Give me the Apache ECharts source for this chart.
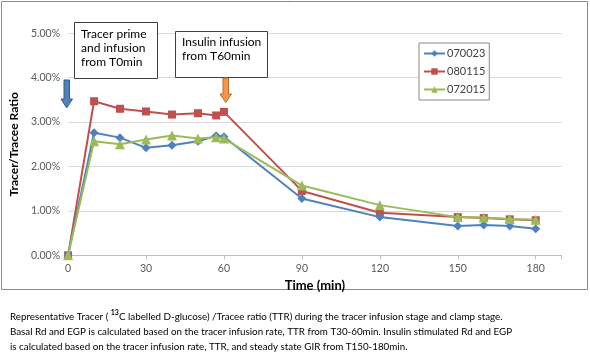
<!DOCTYPE html>
<html>
<head>
<meta charset="utf-8">
<script src="https://cdn.jsdelivr.net/npm/echarts@6/dist/echarts.min.js"></script>
<style>
html,body{margin:0;padding:0;background:#fff;}
#c{width:590px;height:358px;}
</style>
</head>
<body>
<div id="c"></div>
<script>
const times = [0, 10, 20, 30, 40, 50, 57, 60, 90, 120, 150, 160, 170, 180];
const s070023 = [0, 2.76, 2.65, 2.42, 2.48, 2.57, 2.69, 2.67, 1.28, 0.86, 0.66, 0.68, 0.66, 0.60];
const s080115 = [0, 3.47, 3.30, 3.24, 3.17, 3.20, 3.15, 3.23, 1.45, 0.96, 0.86, 0.84, 0.81, 0.79];
const s072015 = [0, 2.57, 2.50, 2.61, 2.70, 2.63, 2.66, 2.63, 1.57, 1.13, 0.86, 0.85, 0.82, 0.80];
const seriesNames = ['070023', '080115', '072015'];
const xTicks = [0, 30, 60, 90, 120, 150, 180];

const FONT = 'Lato, "Open Sans", sans-serif';
const pairs = arr => times.map((t, i) => [t, arr[i]]);

const chart = echarts.init(document.getElementById('c'), null, {renderer: 'canvas'});

function mkSeries(name, data, color, symbol, size, z) {
  return {
    name: name, type: 'line', data: pairs(data),
    symbol: symbol, symbolSize: size, showSymbol: true,
    lineStyle: {color: color, width: 2},
    itemStyle: {color: color},
    z: z, animation: false
  };
}

chart.setOption({
  animation: false,
  textStyle: {fontFamily: FONT},
  grid: {left: 66.7, right: 28.3, top: 33.3, bottom: 102.7},
  xAxis: {
    type: 'value', min: 0, max: 190, interval: 30,
    axisLine: {show: true, lineStyle: {color: '#bfbfbf', width: 1}},
    axisTick: {show: true, length: 4, inside: false, lineStyle: {color: '#bfbfbf'}},
    splitLine: {show: false},
    axisLabel: {
      color: '#595959', fontSize: 10.5, fontFamily: FONT, margin: 8,
      formatter: v => (xTicks.indexOf(v) >= 0 ? String(v) : '')
    },
    name: 'Time (min)', nameLocation: 'middle', nameGap: 23,
    nameTextStyle: {fontWeight: 'bold', fontSize: 13, color: '#000', fontFamily: FONT}
  },
  yAxis: {
    type: 'value', min: 0, max: 5, interval: 1,
    axisLine: {show: false}, axisTick: {show: false},
    splitLine: {show: true, lineStyle: {color: '#d9d9d9', width: 1}},
    axisLabel: {color: '#595959', fontSize: 10.5, fontFamily: FONT, margin: 8,
      formatter: v => v.toFixed(2) + '%'},
    name: 'Tracer/Tracee Ratio', nameLocation: 'middle', nameGap: 38,
    nameTextStyle: {fontWeight: 'bold', fontSize: 12, color: '#000', fontFamily: FONT}
  },
  legend: {
    show: true, orient: 'vertical', left: 419, top: 43,
    data: seriesNames,
    itemWidth: 21, itemHeight: 8, itemGap: 7,
    padding: [5, 4, 5, 4],
    borderColor: '#888', borderWidth: 1, borderRadius: 0,
    backgroundColor: '#fff',
    textStyle: {color: '#404040', fontSize: 11, fontFamily: FONT, padding: [0, 0, 0, -3]}
  },
  series: [
    mkSeries(seriesNames[0], s070023, '#4F81BD', 'diamond', 9, 3),
    mkSeries(seriesNames[1], s080115, '#C0504D', 'rect', 8, 2),
    mkSeries(seriesNames[2], s072015, '#9BBB59', 'triangle', 10, 4)
  ],
  graphic: [
    {type: 'rect', shape: {x: 1.5, y: 1.5, width: 586, height: 288}, style: {fill: 'none', stroke: '#8c8c8c', lineWidth: 1}, z: 0, silent: true},
    {type: 'rect', shape: {x: 74.5, y: 22.5, width: 83, height: 56}, style: {fill: '#fff', stroke: '#404040', lineWidth: 1}, z: 10},
    {type: 'text', left: 81, top: 27, z: 11,
      style: {text: 'Tracer prime\nand infusion\nfrom T0min', fill: '#000', font: '12px ' + FONT, lineHeight: 14}},
    {type: 'rect', shape: {x: 175.5, y: 31.5, width: 92, height: 46}, style: {fill: '#fff', stroke: '#404040', lineWidth: 1}, z: 10},
    {type: 'text', left: 182, top: 35, z: 11,
      style: {text: 'Insulin infusion\nfrom T60min', fill: '#000', font: '12px ' + FONT, lineHeight: 14}},
    {type: 'polygon', z: 10,
      shape: {points: [[64, 80], [69.5, 80], [69.5, 99], [72.5, 99], [66.7, 108], [61, 99], [64, 99]]},
      style: {fill: '#4F81BD', stroke: '#385D8A', lineWidth: 1}},
    {type: 'polygon', z: 10,
      shape: {points: [[223, 78], [228.5, 78], [228.5, 94], [231.5, 94], [225.7, 102.5], [220, 94], [223, 94]]},
      style: {fill: '#F79646', stroke: '#B66D31', lineWidth: 1}},
    {type: 'text', left: 10, top: 309, z: 11,
      style: {
        text: 'Representative Tracer ( {sup|13}C labelled D-glucose) /Tracee ratio (TTR) during the tracer infusion stage and clamp stage.\nBasal Rd and EGP is calculated based on the tracer infusion rate, TTR from T30-60min. Insulin stimulated Rd and EGP\nis calculated based on the tracer infusion rate, TTR, and steady state GIR from T150-180min.',
        fill: '#000', font: '9.8px ' + FONT, lineHeight: 15,
        rich: {sup: {fontSize: 7, fontWeight: 'bold', verticalAlign: 'top', padding: [0, 0, 5, 0], fontFamily: FONT, fill: '#000'}}
      }}
  ]
});
</script>
</body>
</html>
